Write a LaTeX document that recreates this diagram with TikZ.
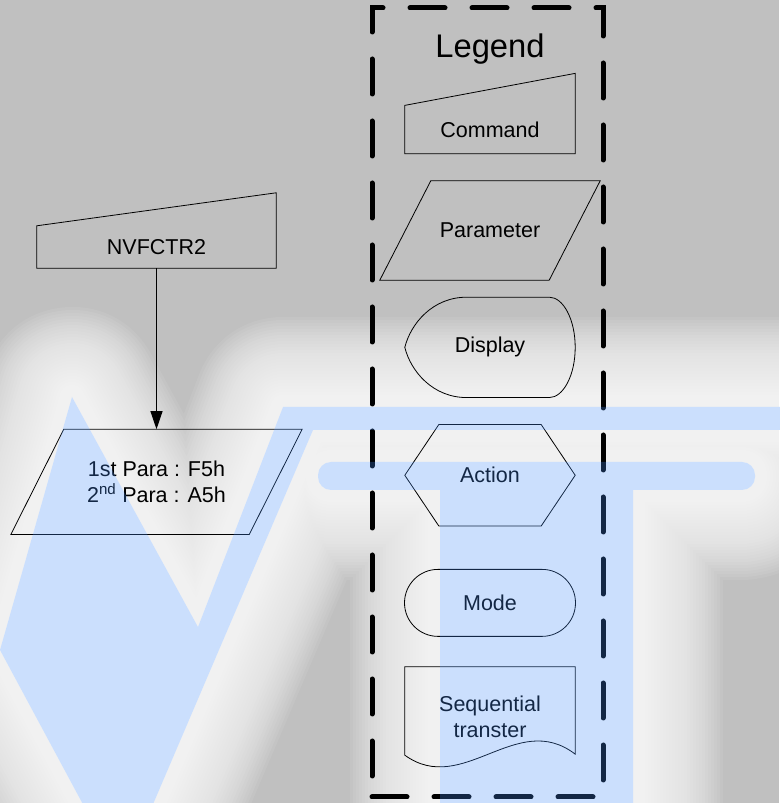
\documentclass[tikz,border=0pt]{standalone}
\usepackage{fontspec}
\setmainfont{Liberation Sans}
\usepackage{xcolor}
\usepackage{tikz}
\usetikzlibrary{positioning,arrows.meta,shapes.misc,backgrounds}
\definecolor{FCGray}{HTML}{C0C0C0}
\definecolor{FCMark}{HTML}{478FFA}
\newcommand{\fclabelfont}{\fontsize{21.5pt}{25.5pt}\selectfont}
\tikzset{
  fcline/.style={draw=black,line width=0.8pt},
  fcbox/.style={
    rectangle,
    inner sep=0pt,
    align=center,
    font=\fclabelfont,
    minimum width=170pt
  },
  fccmd/.style={fcbox,minimum height=48pt},
  fcpara/.style={fcbox,minimum width=220pt,minimum height=99pt},
  fcdisp/.style={fcbox,minimum height=100pt},
  fcact/.style={fcbox,minimum height=101pt},
  fcmode/.style={fcbox,rounded rectangle,draw=black,line width=0.8pt,
    minimum width=171pt,minimum height=67pt},
  fcseq/.style={fcbox,minimum height=100pt},
  fcarrow/.style={-{Triangle[length=18pt,width=12pt]},line width=0.9pt,draw=black},
  fcframe/.style={rectangle,draw=black,line width=5pt,inner sep=0pt,
    dash pattern=on 35pt off 27pt,line cap=round},
  fctitle/.style={inner sep=0pt,font=\fontsize{32.7pt}{38pt}\selectfont},
  fcglow/.style={draw=white,opacity=0.07,line join=round},
}
% outlines drawn from the anchors of a plain box
\newcommand{\fcmanual}[2]{%
  \draw[fcline] (#1.south west) -- (#1.north west) -- ([yshift=#2]#1.north east)
    -- (#1.south east) -- cycle;}
\newcommand{\fcslant}[2]{%
  \draw[fcline] (#1.south west) -- ([xshift=-#2]#1.south east) -- (#1.north east)
    -- ([xshift=#2]#1.north west) -- cycle;}
\newcommand{\fcdisplay}[1]{%
  \draw[fcline] ([xshift=62pt]#1.north west) -- ([xshift=-26pt]#1.north east)
    .. controls ([xshift=-12pt]#1.north east) and ([yshift=28pt]#1.east) .. (#1.east)
    .. controls ([yshift=-28pt]#1.east) and ([xshift=-12pt]#1.south east) .. ([xshift=-26pt]#1.south east)
    -- ([xshift=62pt]#1.south west)
    .. controls ([xshift=28pt]#1.south west) and ([xshift=6pt,yshift=-24pt]#1.west) .. (#1.west)
    .. controls ([xshift=6pt,yshift=24pt]#1.west) and ([xshift=28pt]#1.north west) .. ([xshift=62pt]#1.north west)
    -- cycle;}
\newcommand{\fchex}[2]{%
  \draw[fcline] (#1.west) -- ([xshift=#2]#1.north west) -- ([xshift=-#2]#1.north east)
    -- (#1.east) -- ([xshift=-#2]#1.south east) -- ([xshift=#2]#1.south west) -- cycle;}
\newcommand{\fcdoc}[1]{%
  \draw[fcline] ([yshift=12pt]#1.south west) -- (#1.north west) -- (#1.north east)
    -- ([yshift=13pt]#1.south east)
    .. controls ([xshift=112pt,yshift=58pt]#1.south west) and ([xshift=58pt,yshift=-30pt]#1.south west)
    .. ([yshift=12pt]#1.south west) -- cycle;}
% watermark letters
\newcommand{\fcwatermark}{(72,406) -- (198,176) -- (283,396) -- (800,396) -- (800,373)
  -- (313,373) -- (145,-20) -- (93,-20) -- (0,153) -- cycle
  (440,-20) -- (440,313) -- (633,313) -- (633,-20) -- cycle
  [rounded corners=13pt] (318,313) rectangle (755,341)}

\begin{document}
\begin{tikzpicture}[x=1pt,y=1pt]
  \useasboundingbox (0,0) rectangle (779,803);

  \node[fcframe,minimum width=231pt,minimum height=789pt] (legendbox) at (487.5,400.5) {};
  \node[fctitle,below=28pt of legendbox.north,xshift=2.5pt] (title) {Legend};

  \node[fccmd,below=41pt of title] (cmd) {Command};
  \node[fcpara,below=27pt of cmd] (para) {Parameter};
  \node[fcdisp,below=17pt of para] (disp) {Display};
  \node[fcact,below=27pt of disp] (act) {Action};
  \node[fcmode,below=43pt of act] (mode) {Mode};
  \node[fcseq,below=30pt of mode] (seq) {Sequential\\transter};

  \fcmanual{cmd}{32pt}
  \fcslant{para}{51pt}
  \fcdisplay{disp}
  \fchex{act}{34pt}
  \fcdoc{seq}

  \node[fccmd,minimum width=239pt,minimum height=42pt] (nvfctr) at (156.5,556) {NVFCTR2};
  \node[fcpara,minimum width=291pt,minimum height=105pt,below=161pt of nvfctr] (nvpara)
    {1st Para : F5h\\2\textsuperscript{nd} Para : A5h};

  \fcmanual{nvfctr}{33pt}
  \fcslant{nvpara}{53pt}
  \draw[fcarrow] (nvfctr) -- (nvpara);

  \begin{scope}[on background layer]
    \fill[FCGray] (0,0) rectangle (779,803);
    \foreach \w in {6,12,...,180}
      \draw[fcglow,line width=\w pt] \fcwatermark;
    \fill[white] \fcwatermark;
  \end{scope}

  \fill[FCMark,opacity=0.28] \fcwatermark;
\end{tikzpicture}
\end{document}
